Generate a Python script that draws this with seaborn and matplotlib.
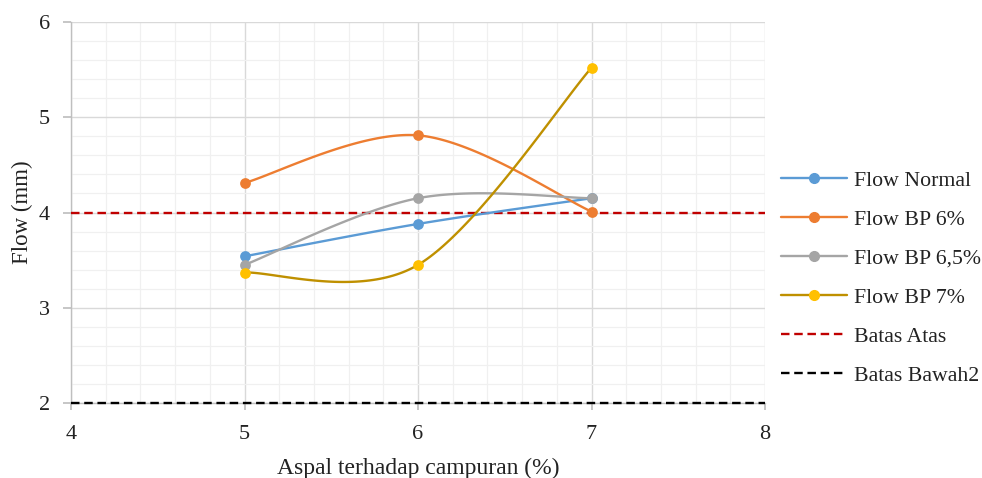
import numpy as np
import pandas as pd
import matplotlib
matplotlib.use("Agg")
import matplotlib.pyplot as plt
from matplotlib.ticker import MultipleLocator
from matplotlib.lines import Line2D
import seaborn as sns

# ---- data ----
aspal = [5, 6, 7]
flow_normal = [3.54, 3.88, 4.15]
flow_bp6 = [4.31, 4.81, 4.01]
flow_bp65 = [3.45, 4.15, 4.15]
flow_bp7 = [3.37, 3.45, 5.52]
x_range = [4, 8]
batas_atas = [4, 4]
batas_bawah = [2, 2]

series_names = ["Flow Normal", "Flow BP 6%", "Flow BP 6,5%", "Flow BP 7%"]
series_vals = [flow_normal, flow_bp6, flow_bp65, flow_bp7]
line_colors = ["#5B9BD5", "#ED7D31", "#A5A5A5", "#BF9000"]
marker_colors = ["#5B9BD5", "#ED7D31", "#A5A5A5", "#FFC000"]

sns.set_theme(style="white")
plt.rcParams["font.family"] = ["Liberation Serif", "DejaVu Serif"]


def excel_smooth(xs, ys, n=60):
    xs = np.asarray(xs, float)
    ys = np.asarray(ys, float)
    P = np.column_stack([xs, ys])
    out = []
    for i in range(len(P) - 1):
        p0 = P[i - 1] if i > 0 else P[i]
        p1 = P[i]
        p2 = P[i + 1]
        p3 = P[i + 2] if i + 2 < len(P) else P[i + 1]
        c1 = p1 + (p2 - p0) / 6.0
        c2 = p2 - (p3 - p1) / 6.0
        t = np.linspace(0, 1, n)[:, None]
        seg = ((1 - t) ** 3) * p1 + 3 * ((1 - t) ** 2) * t * c1 + 3 * (1 - t) * t ** 2 * c2 + t ** 3 * p2
        if i > 0:
            seg = seg[1:]
        out.append(seg)
    return np.vstack(out)


fig = plt.figure(figsize=(9.82, 4.78), dpi=100)
ax = fig.add_axes([71 / 982, 1 - 403 / 478, (765 - 71) / 982, (403 - 22) / 478])

handles = []
for name, vals, lc, mc in zip(series_names, series_vals, line_colors, marker_colors):
    curve = excel_smooth(aspal, vals)
    dfc = pd.DataFrame({"x": curve[:, 0], "y": curve[:, 1]})
    sns.lineplot(data=dfc, x="x", y="y", sort=False, estimator=None, ax=ax,
                 color=lc, linewidth=1.7, zorder=4)
    dfp = pd.DataFrame({"x": aspal, "y": vals})
    sns.scatterplot(data=dfp, x="x", y="y", ax=ax, color=mc, s=60,
                    edgecolor=mc, linewidth=0, zorder=5)
    handles.append(Line2D([0], [0], color=lc, lw=1.7, marker="o", markersize=7,
                          markerfacecolor=mc, markeredgecolor=mc, label=name))

for vals, col, name in [(batas_atas, "#C00000", "Batas Atas"),
                        (batas_bawah, "#000000", "Batas Bawah2")]:
    dfl = pd.DataFrame({"x": x_range, "y": vals})
    sns.lineplot(data=dfl, x="x", y="y", ax=ax, color=col, linewidth=1.7,
                 zorder=3, clip_on=False)
    ax.lines[-1].set_dashes((3.6, 2.0))
    handles.append(Line2D([0], [0], color=col, lw=1.7, dashes=(3.6, 2.0), label=name))

ax.set_xlim(4, 8)
ax.set_ylim(2, 6)
ax.xaxis.set_major_locator(MultipleLocator(1))
ax.yaxis.set_major_locator(MultipleLocator(1))
ax.xaxis.set_minor_locator(MultipleLocator(0.2))
ax.yaxis.set_minor_locator(MultipleLocator(0.2))
ax.grid(which="major", color="#D9D9D9", linewidth=1.0, zorder=0)
ax.grid(which="minor", color="#F0F0F0", linewidth=0.9, zorder=0)
ax.set_axisbelow(True)

for s in ["top", "right"]:
    ax.spines[s].set_visible(False)
for s in ["left", "bottom"]:
    ax.spines[s].set_color("#BFBFBF")
    ax.spines[s].set_linewidth(1.0)

ax.tick_params(axis="both", which="major", direction="out", color="#BFBFBF",
               labelsize=16, labelcolor="#222222", bottom=True, left=True)
ax.tick_params(axis="y", which="major", length=6, pad=9)
ax.tick_params(axis="x", which="major", length=5, pad=11)
ax.tick_params(which="minor", length=0)

ax.set_xlabel("Aspal terhadap campuran (%)", fontsize=17, color="#222222", labelpad=10)
ax.set_ylabel("Flow (mm)", fontsize=16.5, color="#222222", labelpad=4)

fig.legend(handles=handles, loc="upper left", bbox_to_anchor=(772 / 982, 1 - 162 / 478),
           frameon=False, fontsize=15.7, handlelength=3.05, handletextpad=0.3,
           labelspacing=0.86, labelcolor="#222222", borderaxespad=0)

fig.savefig("out.png", dpi=100)
